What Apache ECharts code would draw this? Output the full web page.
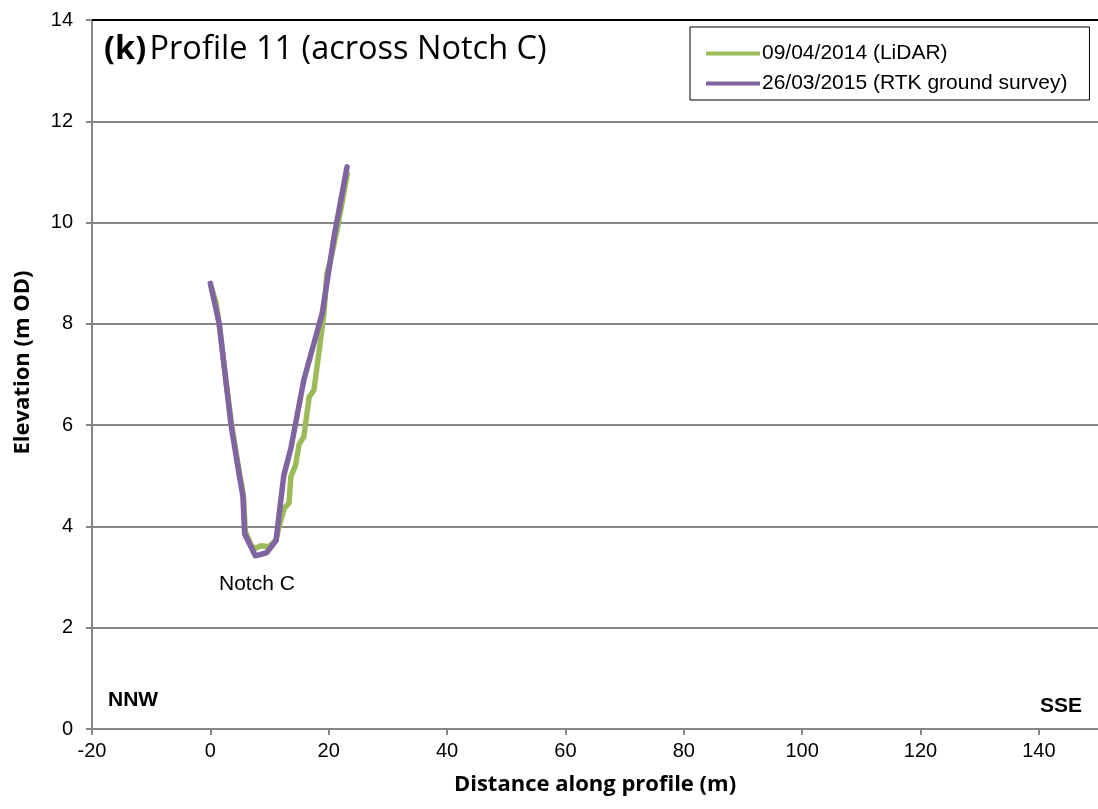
<!DOCTYPE html>
<html>
<head>
<meta charset="utf-8">
<script src="https://cdn.jsdelivr.net/npm/echarts@6/dist/echarts.min.js"></script>
<style>html,body{margin:0;padding:0;background:#fff}#c{width:1098px;height:809px}</style>
</head>
<body>
<div id="c"></div>
<script>
const seriesNames = ['09/04/2014 (LiDAR)', '26/03/2015 (RTK ground survey)'];
const lidar = [[0.1,8.75],[1.0,8.4],[1.6,7.9],[2.5,7.0],[3.6,6.0],[5.0,5.0],[5.6,4.6],[5.9,3.9],[7.0,3.6],[7.7,3.57],[8.5,3.62],[9.9,3.6],[11.1,3.73],[11.6,4.0],[12.5,4.36],[13.3,4.46],[13.6,4.98],[14.4,5.21],[15.0,5.62],[15.8,5.77],[16.7,6.56],[17.5,6.69],[18.4,7.48],[19.2,8.21],[19.7,9.0],[20.3,9.25],[21.4,9.85],[23.2,11.0]];
const rtk = [[0,8.8],[1.5,8.0],[2.4,7.1],[3.5,6.0],[4.9,5.0],[5.5,4.6],[5.8,3.85],[7.6,3.42],[9.5,3.48],[11.1,3.72],[12.4,5.0],[13.6,5.54],[15.8,6.89],[18.9,8.21],[20.9,9.72],[23.1,11.1]];
const xTicks = {min:-20, max:150, interval:20};
const yTicks = {min:0, max:14, interval:2};

const chart = echarts.init(document.getElementById('c'));
chart.setOption({
  animation:false,
  backgroundColor:'#fff',
  grid: {left:92, top:20, right:-4, bottom:80},
  legend: {
    orient:'vertical', left:690, top:27,
    borderColor:'#000', borderWidth:1, padding:[16,22,6,16], itemGap:9,
    itemWidth:54, itemHeight:4, icon:'rect',
    textStyle:{fontFamily:'Liberation Sans', fontSize:21, color:'#000', padding:[0,0,0,-3]},
    data: seriesNames
  },
  xAxis: [{
    type:'value', min:xTicks.min, max:xTicks.max, interval:xTicks.interval,
    name:'Distance along profile (m)', nameLocation:'middle', nameGap:45,
    nameTextStyle:{fontFamily:'Open Sans', fontWeight:'bold', fontSize:22, color:'#000'},
    axisLine:{show:true, onZero:false, lineStyle:{color:'#868686', width:2}},
    axisTick:{show:true, length:6, lineStyle:{color:'#868686', width:2}},
    axisLabel:{fontFamily:'Liberation Sans', fontSize:20, color:'#000', margin:12, showMaxLabel:false},
    splitLine:{show:false}
  },{
    type:'value', position:'top', min:xTicks.min, max:xTicks.max,
    axisLine:{show:true, onZero:false, lineStyle:{color:'#000', width:2}},
    axisTick:{show:false}, axisLabel:{show:false}, splitLine:{show:false}
  }],
  yAxis: {
    type:'value', min:yTicks.min, max:yTicks.max, interval:yTicks.interval,
    name:'Elevation (m OD)', nameLocation:'middle', nameGap:58,
    nameTextStyle:{fontFamily:'Open Sans', fontWeight:'bold', fontSize:22, color:'#000', padding:[0,0,0,24]},
    axisLine:{show:true, onZero:false, lineStyle:{color:'#868686', width:2}},
    axisTick:{show:true, length:6, lineStyle:{color:'#868686', width:2}},
    axisLabel:{fontFamily:'Liberation Sans', fontSize:20, color:'#000', margin:19},
    splitLine:{show:true, lineStyle:{color:'#868686', width:2}}
  },
  graphic: [
    {type:'text', left:104, top:33, style:{rich:{b:{fontFamily:'Open Sans', fontWeight:'bold', fontSize:32.5, fill:'#000'}, n:{fontFamily:'Open Sans', fontSize:32.5, fill:'#000'}}, text:'{b|(k)} {n|Profile 11 (across Notch C)}'}},
    {type:'text', left:108, top:690, style:{text:'NNW', fontFamily:'Liberation Sans', fontWeight:'bold', fontSize:21, fill:'#000'}},
    {type:'text', right:16, top:696, style:{text:'SSE', fontFamily:'Liberation Sans', fontWeight:'bold', fontSize:21, fill:'#000'}},
    {type:'text', left:219, top:574, style:{text:'Notch C', fontFamily:'Liberation Sans', fontSize:21, fill:'#000'}}
  ],
  series: [
    {name:seriesNames[0], type:'line', data:lidar, showSymbol:false, color:'#9BBB59', lineStyle:{width:5.5, color:'#9BBB59'}},
    {name:seriesNames[1], type:'line', data:rtk, showSymbol:false, color:'#8064A2', lineStyle:{width:5.5, color:'#8064A2', cap:'round', join:'round'}}
  ]
});
</script>
</body>
</html>
